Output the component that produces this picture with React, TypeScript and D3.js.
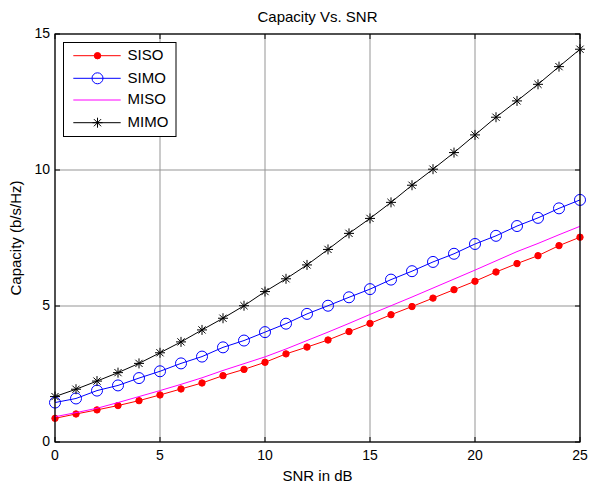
import React from "react";
import * as d3 from "d3";

const snr = [0,1,2,3,4,5,6,7,8,9,10,11,12,13,14,15,16,17,18,19,20,21,22,23,24,25];
const siso = [0.87,1.03,1.18,1.34,1.52,1.73,1.95,2.17,2.44,2.67,2.93,3.24,3.49,3.75,4.06,4.36,4.68,4.98,5.29,5.6,5.91,6.25,6.56,6.85,7.22,7.53];
const simo = [1.45,1.6,1.89,2.08,2.35,2.6,2.89,3.14,3.48,3.73,4.04,4.35,4.71,5.01,5.32,5.62,5.97,6.28,6.62,6.92,7.28,7.58,7.94,8.24,8.59,8.9];
const miso = [0.93,1.08,1.24,1.45,1.67,1.89,2.12,2.36,2.63,2.88,3.13,3.42,3.73,4.04,4.36,4.69,5.01,5.33,5.66,5.99,6.32,6.66,7.0,7.3,7.62,7.93];
const mimo = [1.67,1.94,2.24,2.55,2.89,3.28,3.68,4.12,4.55,5.01,5.53,6.0,6.51,7.08,7.67,8.22,8.81,9.44,10.03,10.64,11.29,11.94,12.54,13.15,13.8,14.44];
const xTicks = [0,5,10,15,20,25];
const yTicks = [0,5,10,15];
const seriesNames = ["SISO","SIMO","MISO","MIMO"];

const W = 589, H = 484;
const L = 55, R = 580, T = 34, B = 442;
const font = "Liberation Sans, Arial, sans-serif";

function Marker({ kind, x, y, color }: { kind: string; x: number; y: number; color: string }) {
  if (kind === "dot") return <circle cx={x} cy={y} r={3.2} fill={color} stroke={color} />;
  if (kind === "circle") return <circle cx={x} cy={y} r={5.5} fill="none" stroke={color} strokeWidth={1} />;
  if (kind === "star") {
    const s = 5, d = 3.6;
    return (
      <g stroke={color} strokeWidth={1}>
        <line x1={x - s} y1={y} x2={x + s} y2={y} />
        <line x1={x} y1={y - s} x2={x} y2={y + s} />
        <line x1={x - d} y1={y - d} x2={x + d} y2={y + d} />
        <line x1={x - d} y1={y + d} x2={x + d} y2={y - d} />
      </g>
    );
  }
  return null;
}

export default function App() {
  const x = d3.scaleLinear().domain([0, 25]).range([L, R]);
  const y = d3.scaleLinear().domain([0, 15]).range([B, T]);
  const series = [
    { name: seriesNames[0], data: siso, color: "#ff0000", marker: "dot" },
    { name: seriesNames[1], data: simo, color: "#0000ff", marker: "circle" },
    { name: seriesNames[2], data: miso, color: "#ff00ff", marker: "none" },
    { name: seriesNames[3], data: mimo, color: "#000000", marker: "star" },
  ];
  const line = (vals: number[]) =>
    d3.line<number>().x((_, i) => x(snr[i])).y((v) => y(v))(vals) || "";

  const legX = 63.5, legY = 42.5, legW = 112.5, legH = 94;
  const rowY = [55.7, 78.3, 100, 122.7];

  return (
    <svg width={W} height={H} style={{ position: "absolute", left: 0, top: 0, background: "#fff" }} fontFamily={font}>
      <rect x={0} y={0} width={W} height={H} fill="#fff" />
      {/* grid */}
      {xTicks.map((t) => (
        <line key={"gx" + t} x1={x(t)} x2={x(t)} y1={T} y2={B} stroke="#959595" strokeWidth={1} />
      ))}
      {yTicks.map((t) => (
        <line key={"gy" + t} x1={L} x2={R} y1={y(t)} y2={y(t)} stroke="#959595" strokeWidth={1} />
      ))}
      {/* ticks */}
      {xTicks.map((t) => (
        <g key={"tx" + t}>
          <line x1={x(t)} x2={x(t)} y1={B} y2={B - 5} stroke="#000" />
          <line x1={x(t)} x2={x(t)} y1={T} y2={T + 5} stroke="#000" />
          <text x={x(t)} y={456.5} fontSize={14} textAnchor="middle" dominantBaseline="middle">{t}</text>
        </g>
      ))}
      {yTicks.map((t) => (
        <g key={"ty" + t}>
          <line x1={L} x2={L + 5} y1={y(t)} y2={y(t)} stroke="#000" />
          <line x1={R} x2={R - 5} y1={y(t)} y2={y(t)} stroke="#000" />
          <text x={L - 5} y={y(t) + 0.5} fontSize={14} textAnchor="end" dominantBaseline="middle">{t}</text>
        </g>
      ))}
      {/* series */}
      {series.map((s) => (
        <g key={s.name}>
          <path d={line(s.data)} fill="none" stroke={s.color} strokeWidth={1} />
          {s.data.map((v, i) => (
            <Marker key={i} kind={s.marker} x={x(snr[i])} y={y(v)} color={s.color} />
          ))}
        </g>
      ))}
      {/* axes box */}
      <rect x={L} y={T} width={R - L} height={B - T} fill="none" stroke="#000" strokeWidth={1.2} />
      {/* legend */}
      <rect x={legX} y={legY} width={legW} height={legH} fill="#fff" stroke="#000" strokeWidth={1} />
      {series.map((s, i) => (
        <g key={"leg" + s.name}>
          <line x1={73.3} x2={120.7} y1={rowY[i]} y2={rowY[i]} stroke={s.color} strokeWidth={1} />
          <Marker kind={s.marker} x={97.5} y={rowY[i]} color={s.color} />
          <text x={127.5} y={rowY[i] + 0.5} fontSize={15} dominantBaseline="middle">{s.name}</text>
        </g>
      ))}
      {/* titles */}
      <text x={(L + R) / 2} y={18} fontSize={15} textAnchor="middle" dominantBaseline="middle">Capacity Vs. SNR</text>
      <text x={(L + R) / 2} y={477} fontSize={15} textAnchor="middle" dominantBaseline="middle">SNR in dB</text>
      <text transform={`translate(17,${(T + B) / 2}) rotate(-90)`} fontSize={15} textAnchor="middle" dominantBaseline="middle">Capacity (b/s/Hz)</text>
    </svg>
  );
}
